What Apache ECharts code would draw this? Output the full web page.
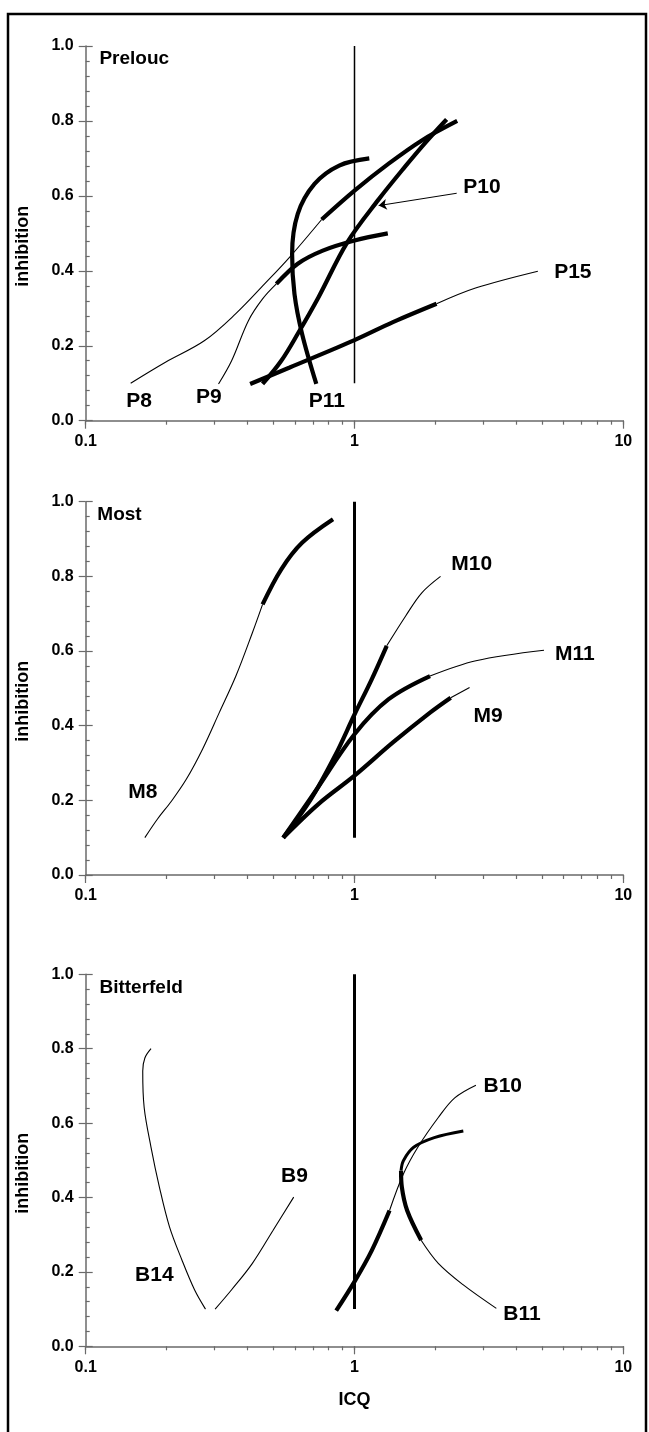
<!DOCTYPE html>
<html><head><meta charset="utf-8">
<script src="https://cdn.jsdelivr.net/npm/echarts@6/dist/echarts.min.js"></script>
<style>html,body{margin:0;padding:0;background:#fff}#c{width:649px;height:1432px}</style>
</head><body><div id="c"></div>
<script>
// ---------- DATA (x = ICQ, y = inhibition) ----------
// Panel 1: Prelouc
const p8Thin   = [[0.147,0.10],[0.198,0.156],[0.277,0.214],[0.361,0.285],[0.463,0.365],[0.573,0.436],[0.755,0.537]];
const p8Thick  = [[0.755,0.537],[1.0,0.614],[1.34,0.686],[1.78,0.748],[2.41,0.80]];
const p9Thin   = [[0.312,0.098],[0.349,0.16],[0.403,0.267],[0.455,0.325],[0.512,0.365]];
const p9Thick  = [[0.512,0.365],[0.615,0.419],[0.762,0.454],[1.0,0.481],[1.33,0.50]];
const p10Thick = [[0.455,0.098],[0.534,0.16],[0.615,0.232],[0.734,0.329],[0.94,0.476],[1.228,0.59],[1.55,0.68],[1.85,0.745],[2.2,0.804]];
const p11Thick = [[0.721,0.098],[0.638,0.232],[0.598,0.338],[0.586,0.445],[0.615,0.552],[0.71,0.632],[0.877,0.681],[1.135,0.70]];
const p15Thick = [[0.409,0.098],[0.574,0.142],[1.0,0.215],[1.39,0.263],[2.02,0.312]];
const p15Thin  = [[2.02,0.312],[2.82,0.354],[4.81,0.399]];
const p10Arrow = [[2.4,0.607],[1.23,0.574]];
// Panel 2: Most
const m8Thin   = [[0.166,0.10],[0.185,0.15],[0.209,0.199],[0.237,0.257],[0.272,0.337],[0.314,0.435],[0.362,0.533],[0.417,0.649],[0.455,0.725]];
const m8Thick  = [[0.455,0.725],[0.534,0.819],[0.638,0.89],[0.832,0.953]];
const m10Thick = [[0.543,0.10],[0.684,0.2],[0.847,0.32],[1.0,0.43],[1.16,0.525],[1.318,0.614]];
const m10Thin  = [[1.318,0.614],[1.55,0.694],[1.78,0.756],[2.09,0.80]];
const m11Thick = [[0.543,0.10],[0.71,0.221],[1.0,0.377],[1.34,0.471],[1.91,0.533]];
const m11Thin  = [[1.91,0.533],[2.83,0.574],[5.07,0.602]];
const m9Thick  = [[0.543,0.10],[0.734,0.19],[1.0,0.266],[1.39,0.355],[1.91,0.435],[2.28,0.475]];
const m9Thin   = [[2.28,0.475],[2.68,0.502]];
// Panel 3: Bitterfeld
const b14Thin  = [[0.175,0.80],[0.166,0.775],[0.163,0.74],[0.165,0.642],[0.175,0.535],[0.188,0.428],[0.205,0.321],[0.228,0.232],[0.254,0.152],[0.279,0.10]];
const b9Thin   = [[0.303,0.10],[0.349,0.152],[0.417,0.223],[0.498,0.312],[0.594,0.401]];
const b10Thick = [[0.855,0.096],[1.0,0.174],[1.16,0.258],[1.35,0.365]];
const b10Thin  = [[1.35,0.365],[1.52,0.463],[1.72,0.535],[2.05,0.615],[2.36,0.668],[2.83,0.702]];
const b11Top   = [[2.54,0.579],[1.98,0.561],[1.66,0.535],[1.52,0.499],[1.49,0.472]];
const b11Thick = [[1.49,0.472],[1.5,0.428],[1.57,0.365],[1.77,0.285]];
const b11Thin  = [[1.77,0.285],[2.05,0.223],[2.54,0.165],[3.37,0.102]];
// Reference line ICQ = 1
const refLine  = [[1,0.1],[1,1.0]];
// Labels
const labels1 = [['P8',0.158,0.051],['P9',0.287,0.062],['P11',0.789,0.053],['P10',2.98,0.623],['P15',6.49,0.396]];
const labels2 = [['M10',2.73,0.832],['M11',6.6,0.591],['M9',3.14,0.426],['M8',0.163,0.221]];
const labels3 = [['B10',3.56,0.70],['B11',4.2,0.086],['B9',0.598,0.456],['B14',0.18,0.192]];
const titles  = [['Prelouc',0.112,0.966],['Most',0.11,0.966],['Bitterfeld',0.112,0.963]];
// Ticks
const xMinorTicks = [0.1,0.2,0.3,0.4,0.5,0.6,0.7,0.8,0.9,1,2,3,4,5,6,7,8,9,10];
const xMajorTicks = [0.1,1,10];

// ---------- CHART ----------
const FONT = '"Liberation Sans", Arial, sans-serif';
const AX = '#6a6a6a';
const grids = [
  {left:85.7, width:537.6, top:46, height:374.7},
  {left:85.7, width:537.6, top:501.7, height:373.3},
  {left:85.7, width:537.6, top:974.3, height:372}
];
const xAxes = [], yAxes = [];
grids.forEach((g,i)=>{
  xAxes.push({gridIndex:i, type:'log', logBase:10, min:0.1, max:10, position:'bottom',
    axisLine:{show:true, lineStyle:{color:AX, width:1.5}},
    axisTick:{show:true, customValues:xMinorTicks, length:4, lineStyle:{color:AX, width:1.2}},
    axisLabel:{show:false}, splitLine:{show:false}, minorTick:{show:false}
  });
  xAxes.push({gridIndex:i, type:'log', logBase:10, min:0.1, max:10, position:'bottom',
    axisLine:{show:false},
    axisTick:{show:true, customValues:xMajorTicks, length:8, lineStyle:{color:AX, width:1.2}},
    axisLabel:{show:true, customValues:xMajorTicks, margin:13, fontSize:16, fontWeight:'bold', fontFamily:FONT, color:'#000',
      formatter:v=>String(v)},
    splitLine:{show:false},
    name: i===2 ? 'ICQ' : '', nameLocation:'middle', nameGap:45,
    nameTextStyle:{fontSize:18, fontWeight:'bold', fontFamily:FONT, color:'#000'}
  });
  yAxes.push({gridIndex:i, type:'value', min:0, max:1, interval:0.2, position:'left',
    axisLine:{show:true, lineStyle:{color:AX, width:1.5}},
    axisTick:{show:true, inside:true, length:7, lineStyle:{color:AX, width:1.2}},
    minorTick:{show:true, splitNumber:5, length:4, lineStyle:{color:AX, width:1.2}},
    axisLabel:{show:true, margin:12, fontSize:16, fontWeight:'bold', fontFamily:FONT, color:'#000',
      formatter:v=>v.toFixed(1)},
    splitLine:{show:false},
    name:'inhibition', nameLocation:'middle', nameGap:54,
    nameTextStyle:{fontSize:18, fontWeight:'bold', fontFamily:FONT, color:'#000', padding:[0,26,0,0]}
  });
  yAxes.push({gridIndex:i, type:'value', min:0, max:1, interval:0.2, position:'left',
    axisLine:{show:false},
    axisTick:{show:true, inside:false, length:7, lineStyle:{color:AX, width:1.2}},
    axisLabel:{show:false}, splitLine:{show:false}
  });
});

const series = [];
function line(data, gi, w){
  series.push({type:'line', xAxisIndex:2*gi, yAxisIndex:2*gi, data:data, showSymbol:false, symbol:'none',
    smooth:0.35, lineStyle:{color:'#000', width:w}, silent:true, z:3});
}
const THIN=1.1, THICK=4.2;
line(p8Thin,0,THIN); line(p8Thick,0,THICK);
line(p9Thin,0,THIN); line(p9Thick,0,THICK);
line(p10Thick,0,THICK); line(p11Thick,0,THICK);
line(p15Thick,0,THICK); line(p15Thin,0,THIN);
line(refLine,0,1.5);
line(m8Thin,1,THIN); line(m8Thick,1,THICK);
line(m10Thick,1,THICK); line(m10Thin,1,THIN);
line(m11Thick,1,THICK); line(m11Thin,1,THIN);
line(m9Thick,1,THICK); line(m9Thin,1,THIN);
line(refLine,1,3);
line(b14Thin,2,THIN); line(b9Thin,2,THIN);
line(b10Thick,2,THICK); line(b10Thin,2,THIN);
line(b11Top,2,3); line(b11Thick,2,THICK); line(b11Thin,2,THIN);
line(refLine,2,3);

// arrow for P10
series.push({type:'line', xAxisIndex:0, yAxisIndex:0, data:[], silent:true,
  markLine:{silent:true, symbol:['none','arrow'], symbolSize:8, label:{show:false},
    lineStyle:{color:'#000', width:1, type:'solid', opacity:1},
    itemStyle:{color:'#000'},
    data:[[{coord:p10Arrow[0]},{coord:p10Arrow[1]}]]}});

const lblStyle = (pos, size)=>({show:true, position:pos, distance:0, formatter:'{b}', fontSize:size,
  fontWeight:'bold', fontFamily:FONT, color:'#000', opacity:1, textBorderWidth:0});
// curve labels
[labels1,labels2,labels3].forEach((lab,gi)=>{
  series.push({type:'scatter', xAxisIndex:2*gi, yAxisIndex:2*gi, symbolSize:1, silent:true,
    itemStyle:{color:'#fff', opacity:0},
    label:lblStyle('inside',21),
    data:lab.map(d=>({name:d[0], value:[d[1],d[2]]}))});
});
titles.forEach((t,gi)=>{
  series.push({type:'scatter', xAxisIndex:2*gi, yAxisIndex:2*gi, symbolSize:1, silent:true,
    itemStyle:{color:'#fff', opacity:0},
    label:lblStyle('right',19),
    data:[{name:t[0], value:[t[1],t[2]]}]});
});

const chart = echarts.init(document.getElementById('c'), null, {renderer:'canvas'});
chart.setOption({
  animation:false,
  backgroundColor:'#fff',
  grid:grids,
  xAxis:xAxes,
  yAxis:yAxes,
  series:series,
  graphic:[{type:'rect', shape:{x:8, y:14, width:638, height:1440}, style:{fill:'none', stroke:'#000', lineWidth:2.5}, silent:true}]
});
</script></body></html>
